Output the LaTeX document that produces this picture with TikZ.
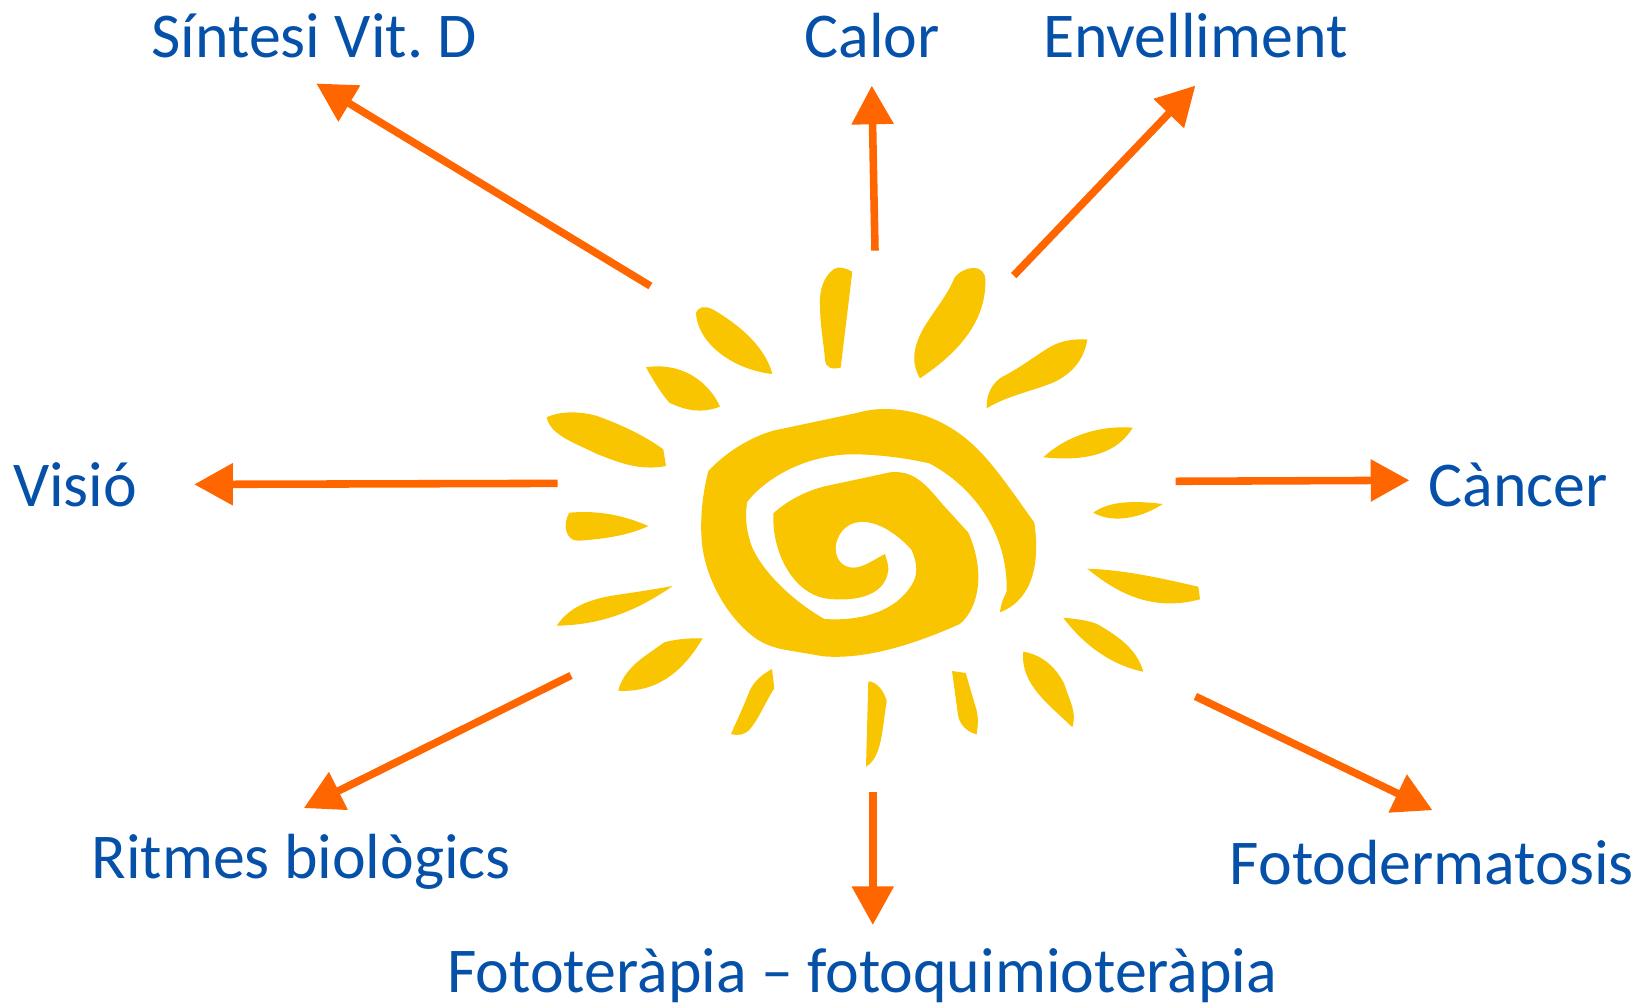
\documentclass[tikz,border=0pt]{standalone}
\usepackage{fontspec}
\setmainfont{Carlito}
\usetikzlibrary{arrows.meta}
\definecolor{sunYellow}{HTML}{F8C500}
\definecolor{rayOrange}{HTML}{FF6600}
\definecolor{labelBlue}{HTML}{0550A8}
\tikzset{
  effect/.style={text=labelBlue, anchor=base, inner sep=0pt, font=\fontsize{18.15pt}{22pt}\selectfont\frenchspacing},
  ray/.style={-{Triangle[length=11pt,width=11.5pt]}, line width=2.15pt, draw=rayOrange},
  flare/.style={fill=sunYellow, draw=none}
}

\begin{document}
\begin{tikzpicture}[x=0.01cm, y=-0.01cm]
  \useasboundingbox (0,0) rectangle (1637,1004);

  % Sun rays, clockwise from the top
  \fill[flare] (852.3,271.7) .. controls (846,268) and (838,266) .. (834,269) .. controls (824,276) and (819,290) .. (820,305) .. controls (820,325) and (824,345) .. (825,360) .. controls (826,368) and (832,370) .. (840.7,367.5) -- cycle;
  \fill[flare] (920,378.3) .. controls (912,365) and (912,350) .. (922,331) .. controls (932,313) and (948,295) .. (954.3,278) .. controls (960,270) and (972,266) .. (979,269) .. controls (985,272) and (986,278) .. (985.3,285) .. controls (984,325) and (955,355) .. (920,378.3) -- cycle;
  \fill[flare] (986.7,408.3) .. controls (986,392) and (994,382) .. (1002,377) .. controls (1020,368) and (1035,356) .. (1050,347) .. controls (1062,340) and (1075,339) .. (1087.3,339.3) .. controls (1084,362) and (1068,378) .. (1046.7,385) .. controls (1028,392) and (1005,397) .. (986.7,408.3) -- cycle;
  \fill[flare] (1043.3,457.3) .. controls (1065,437) and (1098,425) .. (1132.7,427.7) .. controls (1118,452) and (1090,462) .. (1043.3,457.3) -- cycle;
  \fill[flare] (1093.3,512.7) .. controls (1108,502) and (1130,500) .. (1162.7,504) .. controls (1145,516) and (1115,525) .. (1093.3,512.7) -- cycle;
  \fill[flare] (1087.3,568.7) .. controls (1125,570) and (1160,578) .. (1198.3,586.7) -- (1200,599.3) .. controls (1160,610) and (1125,600) .. (1087.3,568.7) -- cycle;
  \fill[flare] (1063.3,617.7) .. controls (1078,619) and (1090,621) .. (1097,624) .. controls (1120,637) and (1137,650) .. (1143.3,671.7) .. controls (1110,665) and (1082,643) .. (1063.3,617.7) -- cycle;
  \fill[flare] (1023.3,651.7) .. controls (1043,655) and (1056,668) .. (1064,683.3) .. controls (1070,702) and (1077,712) .. (1072.3,727.3) .. controls (1050,705) and (1020,685) .. (1023.3,651.7) -- cycle;
  \fill[flare] (952,671) -- (965.7,673) -- (975,705) .. controls (979,716) and (978,725) .. (976.7,734.3) .. controls (966,732) and (959,723) .. (958,715) -- cycle;
  \fill[flare] (868.3,681.3) .. controls (878,682) and (884,692) .. (886.7,701) .. controls (882,730) and (882,757) .. (866,766.7) -- cycle;
  \fill[flare] (772,669) -- (774.3,688.3) .. controls (765,703) and (758,720) .. (750,729) .. controls (745,735) and (738,736) .. (731,734) .. controls (738,718) and (745,703) .. (750,690) .. controls (755,680) and (763,674) .. (772,669) -- cycle;
  \fill[flare] (618.3,690.7) .. controls (622,675) and (634,664) .. (645,656) -- (664.3,642.3) .. controls (677,639) and (690,638) .. (702.7,638.3) .. controls (685,668) and (660,693) .. (618.3,690.7) -- cycle;
  \fill[flare] (556.7,625.7) .. controls (570,606) and (590,600) .. (610,596) .. controls (630,593) and (650,590) .. (672.7,586) .. controls (635,612) and (600,625) .. (556.7,625.7) -- cycle;
  \fill[flare] (569.3,512.7) .. controls (600,510) and (625,516) .. (648.3,526) .. controls (630,535) and (605,539) .. (578.3,540.7) .. controls (566,541) and (562,525) .. (569.3,512.7) -- cycle;
  \fill[flare] (546.7,417.3) .. controls (560,411) and (580,411) .. (597,416) .. controls (622,425) and (645,436) .. (663.3,449.3) -- (666,466) .. controls (640,471) and (620,463) .. (597,454) .. controls (575,443) and (550,435) .. (546.7,417.3) -- cycle;
  \fill[flare] (646,367.3) .. controls (680,362) and (708,380) .. (720,406.7) .. controls (700,414) and (685,410) .. (669.3,402.7) .. controls (660,392) and (652,378) .. (646,367.3) -- cycle;
  \fill[flare] (772.3,374) .. controls (765,345) and (735,322) .. (712,309) .. controls (705,306) and (699,306) .. (696,313) .. controls (698,345) and (735,370) .. (772.3,374) -- cycle;

  % Spiral
  \begin{scope}[shift={(690,400)}, scale=0.3333]
    \fill[flare] (930,637) .. controls (1010,607) and (1055,520) .. (1033,368)
      .. controls (970,280) and (910,190) .. (850,135)
      .. controls (780,70) and (680,20) .. (560,28)
      .. controls (535,30) and (520,34) .. (500,39) -- (250,92)
      .. controls (170,115) and (100,165) .. (55,213)
      .. controls (38,280) and (30,350) .. (35,420)
      .. controls (42,520) and (100,640) .. (190,710)
      .. controls (230,740) and (270,747) .. (300,752) -- (400,769)
      .. controls (530,780) and (680,730) .. (810,672)
      .. controls (870,620) and (885,510) .. (835,398)
      -- (755,310) .. controls (705,250) and (670,210) .. (600,217)
      -- (400,260) .. controls (345,275) and (295,300) .. (250,340)
      .. controls (245,470) and (320,590) .. (420,597)
      .. controls (470,602) and (585,600) .. (595,510)
      .. controls (596,495) and (590,480) .. (585,462)
      .. controls (550,480) and (520,503) .. (490,503)
      .. controls (455,503) and (437,475) .. (437,445)
      .. controls (437,410) and (465,368) .. (510,366)
      .. controls (565,362) and (625,405) .. (665,450)
      .. controls (682,490) and (685,525) .. (665,555)
      .. controls (620,630) and (520,665) .. (403,657)
      .. controls (320,610) and (230,530) .. (190,450)
      .. controls (170,405) and (163,350) .. (172,305)
      .. controls (240,220) and (370,160) .. (500,163)
      .. controls (580,165) and (650,175) .. (718,190)
      .. controls (850,260) and (955,400) .. (950,575)
      .. controls (940,595) and (933,610) .. (930,637) -- cycle;
  \end{scope}

  % Labels
  \node[effect] (vitd) at (314.3,57.4) {Síntesi Vit. D};
  \node[effect] (calor) at (872.3,57.4) {Calor};
  \node[effect] (envelliment) at (1195.4,57.4) {Envelliment};
  \node[effect] (visio) at (75.2,506.4) {Visió};
  \node[effect] (cancer) at (1518,506.4) {Càncer};
  \node[effect] (ritmes) at (301.2,878) {Ritmes biològics};
  \node[effect] (fotoderm) at (1431.9,884) {Fotodermatosis};
  \node[effect] (fototerapia) at (862.4,992) {Fototeràpia – fotoquimioteràpia};

  % Arrow ends
  \coordinate (vitdFrom) at (650.4,286);
  \coordinate (vitdTo) at (316.3,83.5);
  \coordinate (calorFrom) at (875,250.6);
  \coordinate (calorTo) at (871.8,85.6);
  \coordinate (envellimentFrom) at (1013.7,275.6);
  \coordinate (envellimentTo) at (1195.4,85.6);
  \coordinate (cancerFrom) at (1175.6,481.3);
  \coordinate (cancerTo) at (1409.4,480.3);
  \coordinate (fotodermFrom) at (1195.4,696.4);
  \coordinate (fotodermTo) at (1432.5,810.2);
  \coordinate (fototerapiaFrom) at (872.8,792.4);
  \coordinate (fototerapiaTo) at (872.8,925);
  \coordinate (ritmesFrom) at (571,675.5);
  \coordinate (ritmesTo) at (303.8,808.1);
  \coordinate (visioFrom) at (557.5,483.4);
  \coordinate (visioTo) at (194.2,484.4);

  \draw[ray] (vitdFrom) -- (vitdTo);
  \draw[ray] (calorFrom) -- (calorTo);
  \draw[ray] (envellimentFrom) -- (envellimentTo);
  \draw[ray] (cancerFrom) -- (cancerTo);
  \draw[ray] (fotodermFrom) -- (fotodermTo);
  \draw[ray] (fototerapiaFrom) -- (fototerapiaTo);
  \draw[ray] (ritmesFrom) -- (ritmesTo);
  \draw[ray] (visioFrom) -- (visioTo);
\end{tikzpicture}
\end{document}
